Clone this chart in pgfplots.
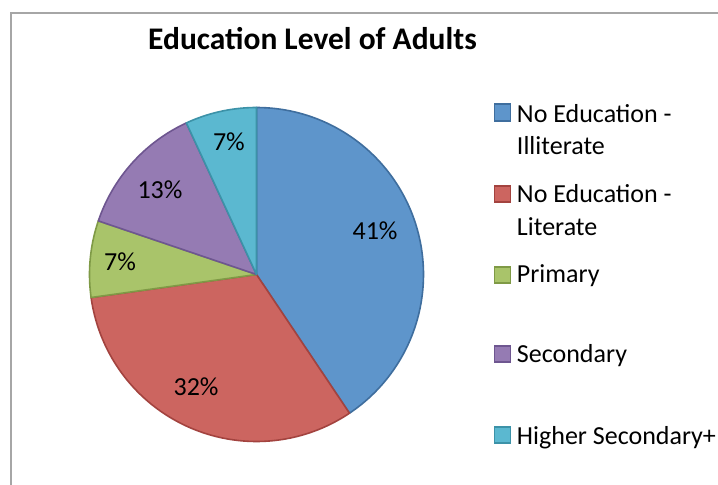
\documentclass[border=0pt]{standalone}
\usepackage{pgfplots}
\pgfplotsset{compat=1.18}
\usepackage{pgfplotstable}
\usepackage{fontspec}
\setmainfont{Carlito}

\definecolor{cA}{HTML}{5E95CB}\definecolor{bA}{HTML}{3F6E9E}
\definecolor{cB}{HTML}{CC6560}\definecolor{bB}{HTML}{A3433F}
\definecolor{cC}{HTML}{A9C46A}\definecolor{bC}{HTML}{7F9A46}
\definecolor{cD}{HTML}{957BB3}\definecolor{bD}{HTML}{6E5690}
\definecolor{cE}{HTML}{5BB8D0}\definecolor{bE}{HTML}{3C92A8}

% share of adults by education level (percent)
\pgfplotstableread{
value label lx ly
40.6 41 0.710 0.260
32.2 32 -0.362 -0.674
7.4 7 -0.817 0.075
12.9 13 -0.578 0.506
6.9 7 -0.165 0.793
}\pietable

\newcommand\getv[2]{\pgfplotstablegetelem{#1}{value}\of\pietable\let#2\pgfplotsretval}
\getv{0}\vA \getv{1}\vB \getv{2}\vC \getv{3}\vD \getv{4}\vE
\pgfmathsetmacro\aA{90}
\pgfmathsetmacro\aB{\aA-3.6*\vA}
\pgfmathsetmacro\aC{\aB-3.6*\vB}
\pgfmathsetmacro\aD{\aC-3.6*\vC}
\pgfmathsetmacro\aE{\aD-3.6*\vD}
\pgfmathsetmacro\aF{\aE-3.6*\vE}

\begin{document}
\begin{tikzpicture}[x=0.75pt,y=0.75pt]
\useasboundingbox (0,0) rectangle (718,485);
\fill[white] (0,0) rectangle (718,485);
\draw[color=black!35, line width=1.4pt] (11,-10) -- (11,472) -- (740,472);

\node[anchor=base, font=\bfseries\fontsize{23.6}{28}\selectfont] at (312.5,435) {Education Level of Adults};

\begin{axis}[
  at={(192.375pt,157.875pt)}, anchor=center,
  width=250.5pt, height=250.5pt, scale only axis,
  xmin=-1, xmax=1, ymin=-1, ymax=1,
  hide axis, clip=false,
  /pgf/number format/assume math mode=true,
  every axis plot/.append style={line width=1.2pt, line join=round},
]
\addplot[fill=cA, draw=bA, domain=\aA:\aB, samples=90, variable=\t] ({cos(\t)},{sin(\t)}) -- (axis cs:0,0) -- cycle;
\addplot[fill=cB, draw=bB, domain=\aB:\aC, samples=90, variable=\t] ({cos(\t)},{sin(\t)}) -- (axis cs:0,0) -- cycle;
\addplot[fill=cC, draw=bC, domain=\aC:\aD, samples=30, variable=\t] ({cos(\t)},{sin(\t)}) -- (axis cs:0,0) -- cycle;
\addplot[fill=cD, draw=bD, domain=\aD:\aE, samples=40, variable=\t] ({cos(\t)},{sin(\t)}) -- (axis cs:0,0) -- cycle;
\addplot[fill=cE, draw=bE, domain=\aE:\aF, samples=30, variable=\t] ({cos(\t)},{sin(\t)}) -- (axis cs:0,0) -- cycle;
\addplot[only marks, mark=none, nodes near coords={\pgfmathprintnumber{\pgfplotspointmeta}\%},
  point meta=explicit, nodes near coords align={center},
  every node near coord/.append style={font=\fontsize{19.5}{23}\selectfont, anchor=center, text=black}]
  table[x=lx, y=ly, meta=label] {\pietable};
\end{axis}

\begin{scope}[every node/.style={anchor=base west, inner sep=0pt, font=\fontsize{19.5}{23}\selectfont}]
\draw[fill=cA, draw=bA, line width=0.8pt] (494.5,381) rectangle (510.5,364);
\node at (516.7,362) {No Education -};
\node at (516.7,330) {Illiterate};
\draw[fill=cB, draw=bB, line width=0.8pt] (494.5,299) rectangle (510.5,283);
\node at (516.7,282) {No Education -};
\node at (516.7,249) {Literate};
\draw[fill=cC, draw=bC, line width=0.8pt] (494.5,218) rectangle (510.5,202);
\node at (516.7,202) {Primary};
\draw[fill=cD, draw=bD, line width=0.8pt] (494.5,139) rectangle (510.5,123);
\node at (516.7,122) {Secondary};
\draw[fill=cE, draw=bE, line width=0.8pt] (494.5,58) rectangle (510.5,42);
\node at (516.7,40) {Higher Secondary+};
\end{scope}
\end{tikzpicture}
\end{document}
